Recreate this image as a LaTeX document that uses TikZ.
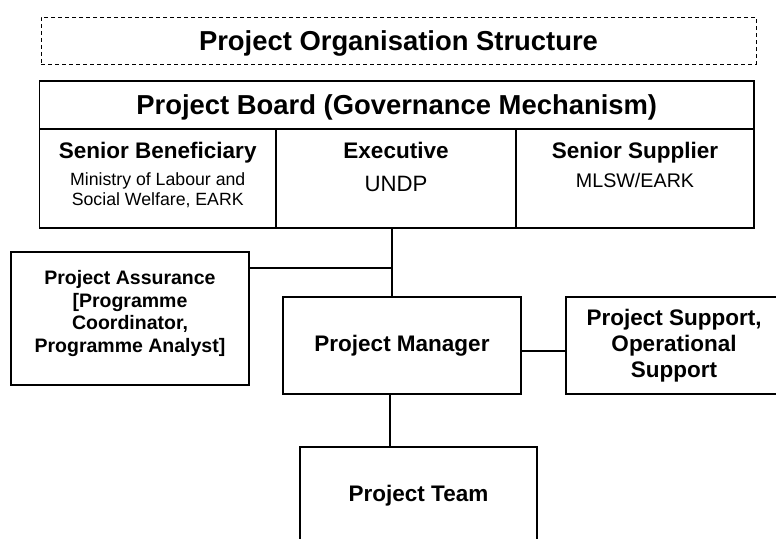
\documentclass[tikz,border=0pt]{standalone}
\usepackage{fontspec}
\setmainfont{Liberation Sans}

\begin{document}
\begin{tikzpicture}[x=1pt, y=-1pt,
            box/.style={draw, line width=1.2pt, inner sep=0pt, align=center,
                font=\bfseries\fontsize{22.5}{26}\selectfont},
            cell/.style={box, minimum height=99pt},
            head/.style={inner sep=0pt, font=\bfseries\fontsize{22.5}{26}\selectfont},
            note/.style={inner sep=0pt, align=center, font=\fontsize{17.7}{20}\selectfont}]
            \useasboundingbox (0,0) rectangle (776,538);
            \clip (0,0) rectangle (776,538);
            \node [box, dashed, dash pattern=on 4pt off 3pt, line width=1pt,
                minimum width=715pt, minimum height=47pt, text depth=0pt,
                font=\bfseries\fontsize{27.4}{30}\selectfont] (title) at (398.5,40.5) {Project Organisation Structure};
            \node [box, minimum width=714.5pt, minimum height=48pt, text depth=0pt,
                font=\bfseries\fontsize{27.4}{30}\selectfont] (board) at (396.75,105) {Project Board (Governance Mechanism)};
            \node [cell, minimum width=236.5pt] (benef) at (157.75,178.5) {};
            \node [cell, minimum width=240pt] (exec) at (396,178.5) {};
            \node [cell, minimum width=238pt] (suppl) at (635,178.5) {};
            \node [head, anchor=base] (benefname) at ([yshift=-30pt]benef.north) {Senior Beneficiary};
            \node [note, anchor=north] (benefnote) at ([yshift=-44pt]benef.north) {Ministry of Labour and\\Social Welfare, EARK};
            \node [head, anchor=base] (execname) at ([yshift=-30pt]exec.north) {Executive};
            \node [note, anchor=base, font=\fontsize{22.2}{26}\selectfont] (execnote) at ([yshift=-63pt]exec.north) {UNDP};
            \node [head, anchor=base] (supplname) at ([yshift=-30pt]suppl.north) {Senior Supplier};
            \node [note, anchor=base, font=\fontsize{19.7}{22}\selectfont] (supplnote) at ([yshift=-59pt]suppl.north) {MLSW/EARK};
            \node [box, minimum width=238pt, minimum height=133pt, text depth=14pt,
                font=\bfseries\fontsize{19.5}{22.5}\selectfont] (assur) at (130,318.5) {Project Assurance\\{[}Programme\\Coordinator,\\Programme Analyst{]}};
            \node [box, minimum width=238pt, minimum height=97pt] (mgr) at (402,345.5) {Project Manager};
            \node [box, minimum width=216pt, minimum height=97pt] (suppt) at (674,345.5) {Project Support,\\Operational\\Support};
            \node [box, minimum width=237pt, minimum height=97pt] (team) at (418.5,495.5) {Project Team};
            \coordinate (join) at (392,268);
            \draw [line width=1.2pt] (exec.south -| join) -- (mgr.north -| join);
            \draw [line width=1.2pt] (assur.east |- join) -- (join);
            \draw [line width=1.2pt] ([yshift=-5.5pt]mgr.east) -- ([yshift=-5.5pt]mgr.east -| suppt.west);
            \draw [line width=1.2pt] ([xshift=-12pt]mgr.south) -- ([xshift=-12pt]mgr.south |- team.north);
        \end{tikzpicture}
\end{document}
